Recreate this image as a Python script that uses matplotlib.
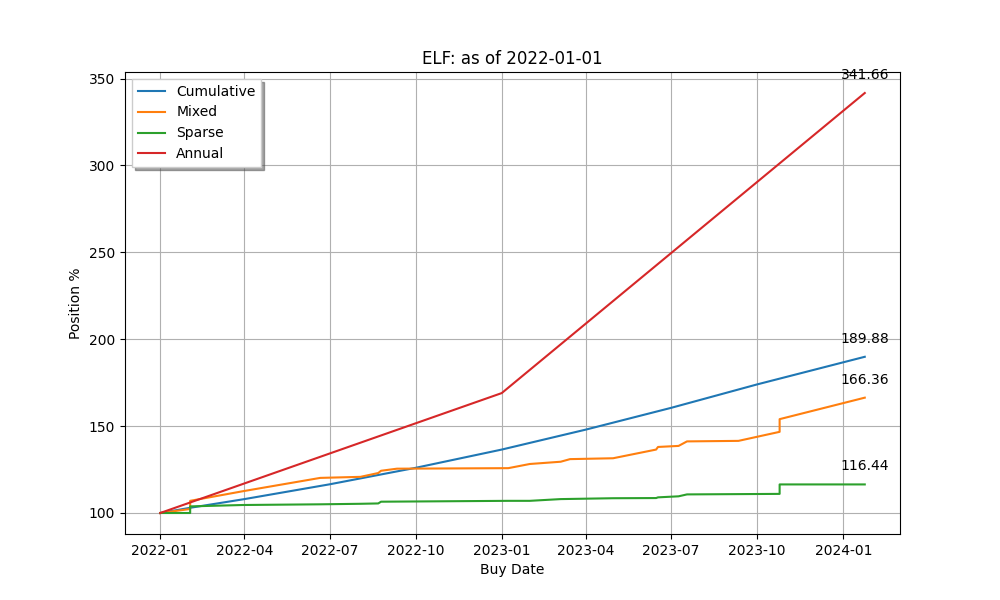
import matplotlib
matplotlib.use("Agg")
import matplotlib.pyplot as plt
import pandas as pd

cum_dates = ["2022-01-01","2022-02-02","2022-04-01","2022-07-01","2022-10-01","2023-01-01","2023-04-01","2023-07-01","2023-10-01","2024-01-24"]
cum_vals = [100,103,108,116.5,126,136.5,148,160.5,174,189.88]

mix_dates = ["2022-01-01","2022-02-02","2022-02-02","2022-03-30","2022-06-21","2022-08-03","2022-08-22","2022-08-25","2022-09-11","2023-01-08","2023-01-31","2023-03-05","2023-03-15","2023-04-30","2023-06-15","2023-06-17","2023-07-09","2023-07-18","2023-09-11","2023-10-25","2023-10-25","2024-01-24"]
mix_vals = [100,102.3,107,112.5,120.2,120.8,123,124.3,125.5,125.8,128.2,129.5,131,131.5,136.5,138,138.6,141.2,141.5,146.7,154,166.36]

spa_dates = ["2022-01-01","2022-02-02","2022-02-02","2022-03-30","2022-06-21","2022-08-03","2022-08-22","2022-08-25","2023-01-08","2023-01-31","2023-03-05","2023-04-30","2023-06-15","2023-06-17","2023-07-09","2023-07-18","2023-10-25","2023-10-25","2024-01-24"]
spa_vals = [100,100,103.8,104.6,105,105.3,105.5,106.5,107,107,108,108.5,108.6,109,109.6,110.7,111,116.44,116.44]

ann_dates = ["2022-01-01","2023-01-01","2024-01-24"]
ann_vals = [100,169,341.66]

fig, ax = plt.subplots(figsize=(10,6), dpi=100)
series = [("Cumulative",cum_dates,cum_vals),("Mixed",mix_dates,mix_vals),("Sparse",spa_dates,spa_vals),("Annual",ann_dates,ann_vals)]
for name, d, v in series:
    dd = pd.to_datetime(d)
    ax.plot(dd, v, label=name)
    ax.annotate(f"{v[-1]:.2f}", (dd[-1], v[-1]), xytext=(0,8), textcoords="offset points", ha="center", va="bottom", fontsize=10)
ax.set_title("ELF: as of 2022-01-01")
ax.set_xlabel("Buy Date")
ax.set_ylabel("Position %")
ax.grid(True)
ax.legend(loc="upper left", shadow=True, fancybox=False)
fig.savefig("out.png")
